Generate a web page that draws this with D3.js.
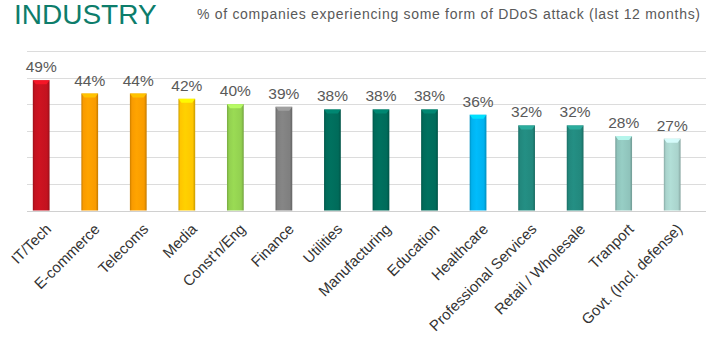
<!DOCTYPE html>
<html>
<head>
<meta charset="utf-8">
<script src="https://cdn.jsdelivr.net/npm/d3@7"></script>
<style>
  html, body { margin: 0; padding: 0; background: #ffffff; }
  svg { display: block; }
</style>
</head>
<body>
<svg id="chart" width="720" height="340"></svg>
<script>
const categories = ["IT/Tech", "E-commerce", "Telecoms", "Media", "Const'n/Eng", "Finance", "Utilities",
  "Manufacturing", "Education", "Healthcare", "Professional Services", "Retail / Wholesale", "Tranport",
  "Govt. (Incl. defense)"];
const values = [49, 44, 44, 42, 40, 39, 38, 38, 38, 36, 32, 32, 28, 27];
const barColors = ["#c3121f", "#f99b00", "#f99b00", "#ffc600", "#92d050", "#7f7f7f", "#006b5a",
  "#006b5a", "#006b5a", "#00b2ef", "#22887d", "#22887d", "#8fc3bb", "#a9d3cc"];
const yTicks = [0, 10, 20, 30, 40, 50, 60];
const title = "INDUSTRY";
const subtitle = "% of companies experiencing some form of DDoS attack (last 12 months)";

const FONT = "'Liberation Sans', Arial, sans-serif";
const svg = d3.select("#chart");
const x = d3.scaleBand().domain(categories).range([16.8, 696.6]).paddingInner(0.655).paddingOuter(0.33);
const y = d3.scaleLinear().domain([0, 60]).range([210.5, 51]);

// gradients
const defs = svg.append("defs");
barColors.forEach((c, i) => {
  const g = defs.append("linearGradient").attr("id", "g" + i).attr("x1", 0).attr("x2", 1).attr("y1", 0).attr("y2", 0);
  const base = d3.color(c);
  g.append("stop").attr("offset", "0%").attr("stop-color", base.darker(0.6));
  g.append("stop").attr("offset", "12%").attr("stop-color", base);
  g.append("stop").attr("offset", "40%").attr("stop-color", base.brighter(0.15));
  g.append("stop").attr("offset", "85%").attr("stop-color", base);
  g.append("stop").attr("offset", "100%").attr("stop-color", base.darker(0.7));
});

// gridlines
svg.append("g").selectAll("line").data(yTicks).join("line")
  .attr("x1", 27).attr("x2", 706)
  .attr("y1", d => Math.round(y(d)) + 0.5).attr("y2", d => Math.round(y(d)) + 0.5)
  .attr("stroke", d => d === 0 ? "#d0d0d0" : "#dcdcdc").attr("stroke-width", 1);

// bars
const bars = svg.append("g").selectAll("g").data(values).join("g");
bars.append("rect")
  .attr("x", (d, i) => x(categories[i]))
  .attr("y", d => y(d))
  .attr("width", x.bandwidth())
  .attr("height", d => y(0) - y(d))
  .attr("fill", (d, i) => `url(#g${i})`);
// top cap highlight
bars.append("path")
  .attr("d", (d, i) => {
    const x0 = x(categories[i]), w = x.bandwidth(), t = y(d);
    return `M${x0},${t}L${x0 + w},${t}L${x0 + w - 3},${t + 4}L${x0 + 3},${t + 4}Z`;
  })
  .attr("fill", (d, i) => d3.color(barColors[i]).brighter(0.7))
  .attr("opacity", 0.9);

// value labels
svg.append("g").selectAll("text").data(values).join("text")
  .attr("x", (d, i) => x(categories[i]) + x.bandwidth() / 2)
  .attr("y", d => y(d) - 8)
  .attr("text-anchor", "middle")
  .attr("font-family", FONT)
  .attr("font-size", 15.5)
  .attr("fill", "#595959")
  .text(d => d + "%");

// x axis labels
svg.append("g").selectAll("text").data(categories).join("text")
  .attr("transform", d => `translate(${x(d) + x.bandwidth() / 2 + 11},${230}) rotate(-45)`)
  .attr("text-anchor", "end")
  .attr("font-family", FONT)
  .attr("font-size", 15)
  .attr("fill", "#333333")
  .text(d => d);

// title
svg.append("text").attr("x", 14).attr("y", 24)
  .attr("font-family", FONT)
  .attr("font-size", 28).attr("fill", "#0d7d6b")
  .text(title);
svg.append("text").attr("x", 197).attr("y", 19)
  .attr("font-family", FONT)
  .attr("font-size", 14).attr("fill", "#595959")
  .attr("textLength", 503).attr("lengthAdjust", "spacing")
  .text(subtitle);
</script>
</body>
</html>
